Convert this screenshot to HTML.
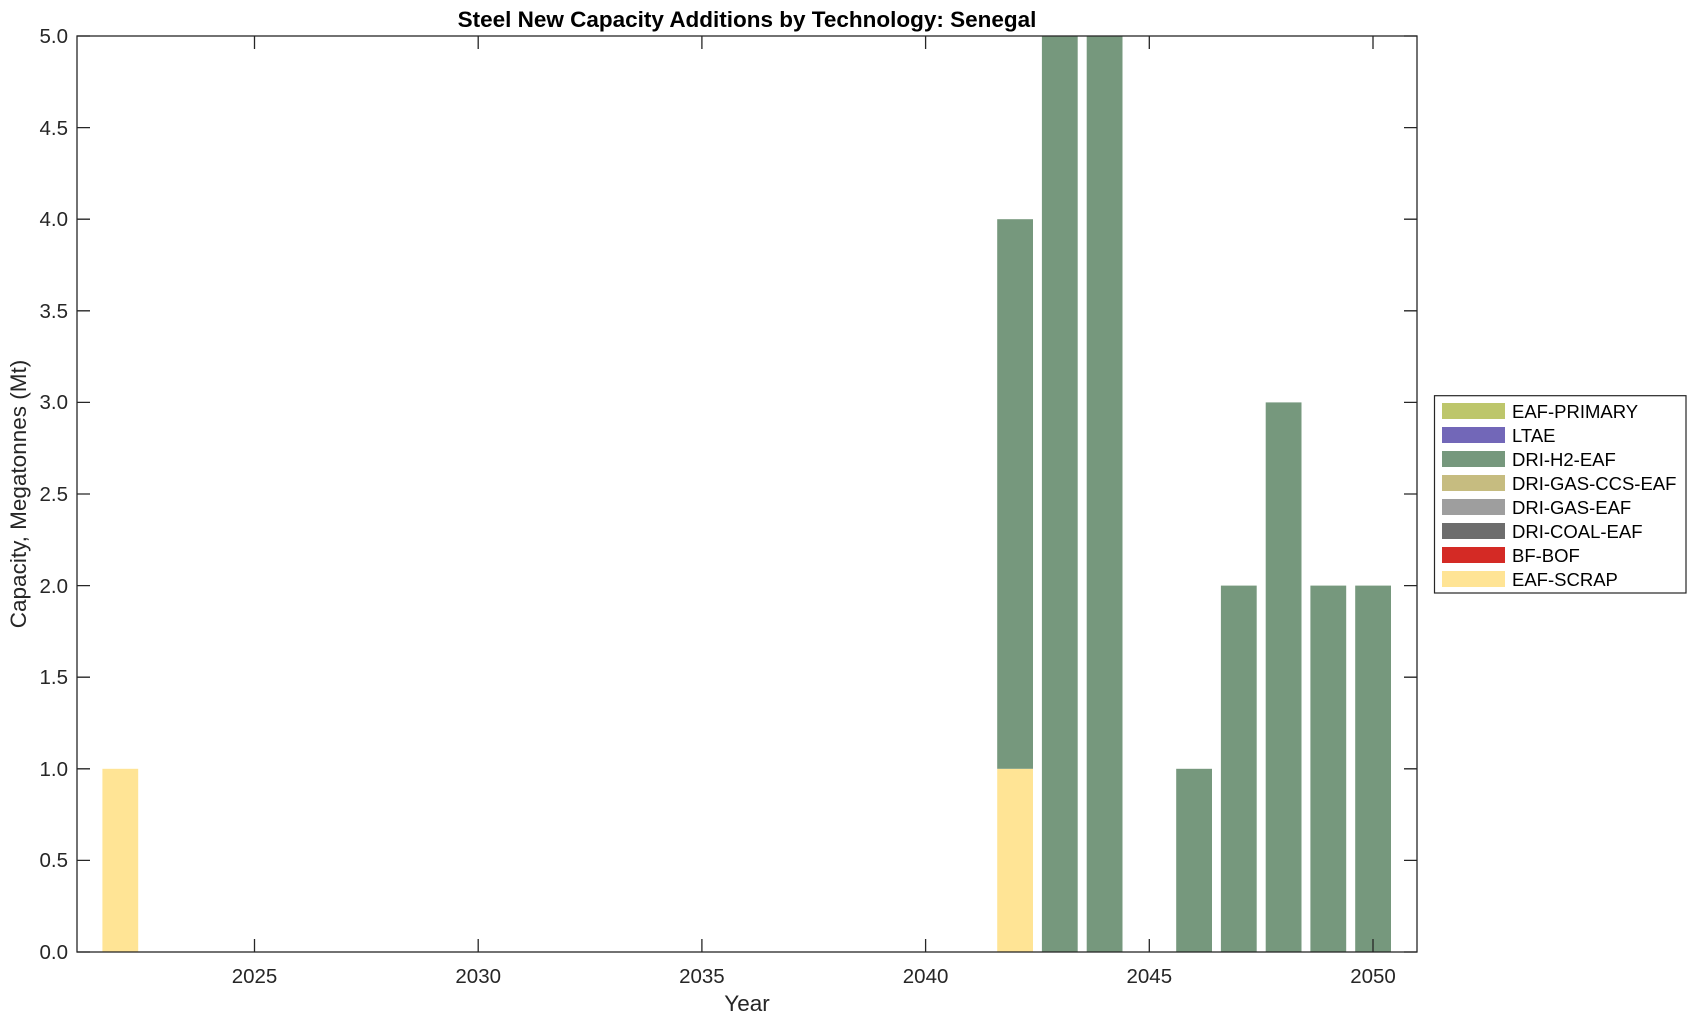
<!DOCTYPE html>
<html><head><meta charset="utf-8"><style>body{margin:0;background:#fff}</style></head><body>
<svg width="1696" height="1021" xmlns="http://www.w3.org/2000/svg" font-family="Liberation Sans, sans-serif">
<rect width="1696" height="1021" fill="#fff"/>
<text x="747" y="27" font-size="22.5" font-weight="bold" text-anchor="middle" fill="#000">Steel New Capacity Additions by Technology: Senegal</text>
<g fill="#ffe495">
<rect x="102.4" y="768.8" width="35.8" height="183.2"/>
<rect x="997.2" y="768.8" width="35.8" height="183.2"/>
</g>
<g fill="#76987d">
<rect x="997.2" y="219.2" width="35.8" height="549.6"/>
<rect x="1041.9" y="36" width="35.8" height="916"/>
<rect x="1086.7" y="36" width="35.8" height="916"/>
<rect x="1176.2" y="768.8" width="35.8" height="183.2"/>
<rect x="1220.9" y="585.6" width="35.8" height="366.4"/>
<rect x="1265.7" y="402.4" width="35.8" height="549.6"/>
<rect x="1310.4" y="585.6" width="35.8" height="366.4"/>
<rect x="1355.2" y="585.6" width="35.8" height="366.4"/>
</g>
<rect x="77" y="36" width="1340" height="916" fill="none" stroke="#262626" stroke-width="1.3"/>
<g stroke="#262626" stroke-width="1.3">
<path d="M254.5 952v-13M254.5 36v13M478.2 952v-13M478.2 36v13M701.9 952v-13M701.9 36v13M925.6 952v-13M925.6 36v13M1149.3 952v-13M1149.3 36v13M1373 952v-13M1373 36v13"/>
<path d="M77 952h13M1417 952h-13M77 860.4h13M1417 860.4h-13M77 768.8h13M1417 768.8h-13M77 677.2h13M1417 677.2h-13M77 585.6h13M1417 585.6h-13M77 494h13M1417 494h-13M77 402.4h13M1417 402.4h-13M77 310.8h13M1417 310.8h-13M77 219.2h13M1417 219.2h-13M77 127.6h13M1417 127.6h-13M77 36h13M1417 36h-13"/>
</g>
<g font-size="20.5" fill="#262626" text-anchor="end">
<text x="68" y="959">0.0</text><text x="68" y="867">0.5</text><text x="68" y="776">1.0</text><text x="68" y="684">1.5</text><text x="68" y="593">2.0</text><text x="68" y="501">2.5</text><text x="68" y="409">3.0</text><text x="68" y="318">3.5</text><text x="68" y="226">4.0</text><text x="68" y="135">4.5</text><text x="68" y="43">5.0</text>
</g>
<g font-size="20.5" fill="#262626" text-anchor="middle">
<text x="254.5" y="983">2025</text><text x="478.2" y="983">2030</text><text x="701.9" y="983">2035</text><text x="925.6" y="983">2040</text><text x="1149.3" y="983">2045</text><text x="1373" y="983">2050</text>
<text x="747" y="1011" font-size="22.5">Year</text>
<text transform="translate(26,494) rotate(-90)" font-size="22.5">Capacity, Megatonnes (Mt)</text>
</g>
<rect x="1434.5" y="395.7" width="251.5" height="197.3" fill="#fff" stroke="#262626" stroke-width="1.2"/>
<g>
<rect x="1442" y="403" width="63" height="16" fill="#bdc66b"/>
<rect x="1442" y="427" width="63" height="16" fill="#7267b8"/>
<rect x="1442" y="451" width="63" height="16" fill="#76987d"/>
<rect x="1442" y="475" width="63" height="16" fill="#c6bc80"/>
<rect x="1442" y="499" width="63" height="16" fill="#9e9e9e"/>
<rect x="1442" y="523" width="63" height="16" fill="#6d6d6d"/>
<rect x="1442" y="547" width="63" height="16" fill="#d42a25"/>
<rect x="1442" y="571" width="63" height="16" fill="#ffe495"/>
</g>
<g font-size="18.5" fill="#000">
<text x="1512" y="418">EAF-PRIMARY</text>
<text x="1512" y="442">LTAE</text>
<text x="1512" y="466">DRI-H2-EAF</text>
<text x="1512" y="490">DRI-GAS-CCS-EAF</text>
<text x="1512" y="514">DRI-GAS-EAF</text>
<text x="1512" y="538">DRI-COAL-EAF</text>
<text x="1512" y="562">BF-BOF</text>
<text x="1512" y="586">EAF-SCRAP</text>
</g>
</svg>
</body></html>
